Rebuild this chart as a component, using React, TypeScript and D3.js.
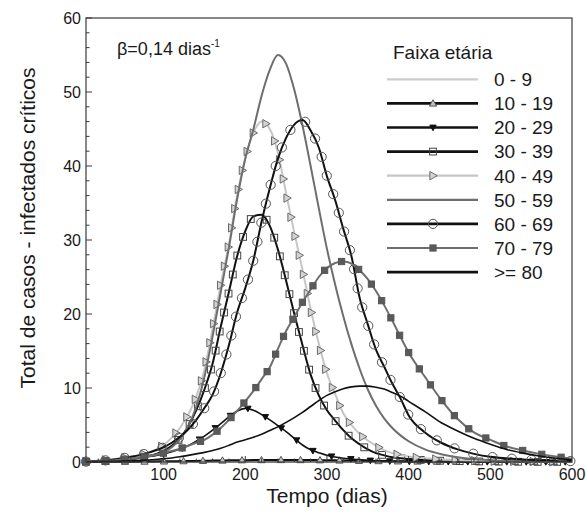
import React, { useEffect, useRef } from 'react';
import * as d3 from 'd3';

// time axis (days)
const times = [5, 20, 40, 60, 80, 100, 110, 120, 130, 140, 150, 160, 170, 180, 190, 200, 210, 220, 230, 240, 250, 260, 270, 280, 290, 300, 310, 320, 330, 340, 350, 360, 370, 380, 390, 400, 420, 440, 460, 480, 500, 520, 540, 560, 580, 600];

const age0_9 = [0, 0, 0.01, 0.01, 0.02, 0.03, 0.03, 0.04, 0.04, 0.05, 0.05, 0.06, 0.06, 0.07, 0.07, 0.07, 0.08, 0.08, 0.08, 0.08, 0.08, 0.08, 0.07, 0.07, 0.07, 0.06, 0.06, 0.05, 0.05, 0.05, 0.04, 0.04, 0.03, 0.03, 0.03, 0.03, 0.02, 0.02, 0.01, 0.01, 0.01, 0.01, 0, 0, 0, 0];
const age10_19 = [0.01, 0.02, 0.03, 0.05, 0.07, 0.09, 0.1, 0.12, 0.13, 0.15, 0.17, 0.19, 0.21, 0.22, 0.24, 0.25, 0.26, 0.27, 0.28, 0.28, 0.28, 0.28, 0.27, 0.26, 0.25, 0.24, 0.22, 0.21, 0.19, 0.17, 0.16, 0.14, 0.13, 0.11, 0.1, 0.09, 0.07, 0.05, 0.04, 0.03, 0.02, 0.02, 0.01, 0.01, 0.01, 0.01];
const age20_29 = [0.05, 0.1, 0.2, 0.4, 0.7, 1.1, 1.4, 1.75, 2.2, 2.8, 3.5, 4.3, 5.2, 6.1, 6.9, 7.25, 7.0, 6.4, 5.7, 4.9, 4.1, 3.2, 2.3, 1.65, 1.25, 0.9, 0.68, 0.5, 0.4, 0.3, 0.22, 0.17, 0.13, 0.1, 0.08, 0.06, 0.04, 0.03, 0.02, 0.01, 0.01, 0.01, 0, 0, 0, 0];
const age30_39 = [0.05, 0.1, 0.2, 0.4, 0.75, 1.5, 2.2, 3.2, 4.8, 7.0, 9.8, 13.3, 18.3, 23, 27.8, 31.2, 33.2, 33.4, 31.9, 28.7, 24.5, 20, 15.8, 11.8, 9, 7, 5.6, 4.3, 3.2, 2.4, 1.7, 1.2, 0.9, 0.65, 0.5, 0.4, 0.25, 0.17, 0.12, 0.08, 0.06, 0.04, 0.03, 0.02, 0.02, 0.01];
const age40_49 = [0.1, 0.2, 0.4, 0.7, 1.2, 2.3, 3.3, 4.6, 6.4, 8.8, 12.5, 18, 24, 29.5, 36, 41, 44.5, 46, 45, 41.8, 36.3, 31, 26, 20.7, 16, 12, 9.2, 6.6, 5.0, 3.8, 2.9, 2.2, 1.6, 1.2, 0.95, 0.75, 0.5, 0.35, 0.25, 0.18, 0.12, 0.09, 0.07, 0.05, 0.04, 0.03];
const age50_59 = [0.05, 0.1, 0.25, 0.45, 0.8, 1.3, 2.0, 3.1, 4.8, 7.5, 11.5, 17, 23, 29, 35.5, 41, 45, 49.5, 53, 55, 53.8, 50.3, 45.5, 40, 34.3, 28.8, 24, 19.7, 15.9, 12.6, 9.8, 7.6, 5.9, 4.6, 3.6, 2.8, 1.7, 1.05, 0.65, 0.4, 0.25, 0.17, 0.12, 0.08, 0.05, 0.04];
const age60_69 = [0.05, 0.15, 0.35, 0.7, 1.2, 2.0, 2.6, 3.4, 4.4, 5.7, 7.3, 9.1, 12, 15.8, 20.2, 23.5, 27.3, 32.5, 37, 41, 43.8, 45.6, 46.2, 44.8, 42.5, 38.6, 35.4, 31.5, 27.8, 22.2, 18.6, 15.2, 12.9, 10.6, 8.6, 6.3, 4.0, 2.6, 1.7, 1.1, 0.7, 0.5, 0.35, 0.25, 0.18, 0.12];
const age70_79 = [0.05, 0.1, 0.25, 0.45, 0.75, 1.2, 1.5, 1.8, 2.2, 2.6, 3.0, 3.7, 4.6, 5.7, 6.9, 8.2, 9.6, 11.2, 12.8, 15.3, 17.7, 19.6, 21.6, 23.3, 25.0, 26.2, 26.9, 27.1, 26.8, 25.9, 24.7, 23.1, 21.2, 19.1, 16.9, 14.8, 11.5, 8.4, 5.8, 4.0, 3.0, 2.1, 1.55, 1.1, 0.75, 0.45];
const age80plus = [0.02, 0.05, 0.1, 0.17, 0.25, 0.45, 0.55, 0.7, 0.9, 1.1, 1.3, 1.55, 1.85, 2.25, 2.7, 3.0, 3.35, 3.75, 4.25, 4.75, 5.35, 6.0, 6.7, 7.5, 8.3, 9.0, 9.5, 9.9, 10.15, 10.25, 10.25, 10.1, 9.85, 9.4, 8.9, 8.2, 6.8, 5.3, 4.2, 3.2, 2.4, 1.7, 1.2, 0.8, 0.5, 0.3];

const seriesLabels = ['0 - 9', '10 - 19', '20 - 29', '30 - 39', '40 - 49', '50 - 59', '60 - 69', '70 - 79', '>= 80'];
const seriesValues = [age0_9, age10_19, age20_29, age30_39, age40_49, age50_59, age60_69, age70_79, age80plus];

const xTicks = [100, 200, 300, 400, 500, 600];
const yTicks = [0, 10, 20, 30, 40, 50, 60];

type Style = { line: string; width: number; marker: string; mStroke: string; mFill: string; r: number };
const styles: Style[] = [
  { line: '#cdcdcd', width: 2, marker: 'none', mStroke: '', mFill: '', r: 0 },
  { line: '#111', width: 2, marker: 'triUp', mStroke: '#555', mFill: '#c4c4c4', r: 3.6 },
  { line: '#111', width: 1.6, marker: 'triDown', mStroke: '#111', mFill: '#111', r: 3.2 },
  { line: '#111', width: 2, marker: 'square', mStroke: '#444', mFill: 'none', r: 3.4 },
  { line: '#c6c6c6', width: 2, marker: 'triRight', mStroke: '#6a6a6a', mFill: '#d4d4d4', r: 4.2 },
  { line: '#6e6e6e', width: 2, marker: 'none', mStroke: '', mFill: '', r: 0 },
  { line: '#111', width: 2, marker: 'circle', mStroke: '#555', mFill: 'none', r: 4.6 },
  { line: '#6e6e6e', width: 2, marker: 'squareFilled', mStroke: '#555', mFill: '#5a5a5a', r: 3.1 },
  { line: '#111', width: 1.6, marker: 'none', mStroke: '', mFill: '', r: 0 },
];

const FONT = '"Liberation Sans", Arial, Helvetica, sans-serif';

function drawMarker(g: any, st: Style, cx: number, cy: number) {
  const r = st.r;
  const sw = 1;
  if (st.marker === 'circle') {
    g.append('circle').attr('cx', cx).attr('cy', cy).attr('r', r).attr('fill', st.mFill).attr('stroke', st.mStroke).attr('stroke-width', sw);
  } else if (st.marker === 'square' || st.marker === 'squareFilled') {
    g.append('rect').attr('x', cx - r).attr('y', cy - r).attr('width', 2 * r).attr('height', 2 * r)
      .attr('fill', st.mFill).attr('stroke', st.mStroke).attr('stroke-width', sw);
  } else {
    let pts: number[][] = [];
    if (st.marker === 'triUp') pts = [[cx, cy - r], [cx + r, cy + r * 0.75], [cx - r, cy + r * 0.75]];
    if (st.marker === 'triDown') pts = [[cx, cy + r], [cx + r, cy - r * 0.75], [cx - r, cy - r * 0.75]];
    if (st.marker === 'triRight') pts = [[cx + r, cy], [cx - r * 0.75, cy - r], [cx - r * 0.75, cy + r]];
    g.append('polygon').attr('points', pts.map((p) => p.join(',')).join(' '))
      .attr('fill', st.mFill).attr('stroke', st.mStroke).attr('stroke-width', sw).attr('stroke-linejoin', 'miter');
  }
}

export default function App() {
  const ref = useRef<SVGSVGElement>(null);
  useEffect(() => {
    const svg = d3.select(ref.current);
    svg.selectAll('*').remove();
    const L = 86, R = 572, T = 18, B = 462;
    const x = d3.scaleLinear().domain([5, 600]).range([L, R]);
    const y = d3.scaleLinear().domain([0, 60]).range([B, T]);

    svg.append('rect').attr('width', 586).attr('height', 516).attr('fill', '#fff');

    // series
    const line = d3.line<number>()
      .x((_, i) => x(times[i]))
      .y((d) => y(d))
      .curve(d3.curveMonotoneX);
    const gS = svg.append('g');
    seriesValues.forEach((vals, k) => {
      const st = styles[k];
      const g = gS.append('g');
      const p = g.append('path').attr('d', line(vals) as string).attr('fill', 'none')
        .attr('stroke', st.line).attr('stroke-width', st.width).attr('stroke-linejoin', 'round');
      if (st.marker !== 'none') {
        const node = p.node() as SVGPathElement;
        const len = node.getTotalLength();
        const step = 19.5;
        for (let l = 0; l <= len; l += step) {
          const pt = node.getPointAtLength(l);
          drawMarker(g, st, pt.x, pt.y);
        }
      }
    });

    // frame & axes
    const ax = svg.append('g').attr('stroke', '#3a3a3a').attr('fill', 'none');
    ax.append('rect').attr('x', L).attr('y', T).attr('width', R - L).attr('height', B - T).attr('stroke-width', 1.2);
    d3.range(0, 61, 2).forEach((v) => {
      const major = v % 10 === 0;
      ax.append('line').attr('x1', L).attr('x2', L + (major ? 6 : 3.5)).attr('y1', y(v)).attr('y2', y(v)).attr('stroke-width', 1);
    });
    d3.range(20, 601, 20).forEach((v) => {
      const major = v % 100 === 0;
      if (x(v) < L + 1 || x(v) > R - 1) return;
      ax.append('line').attr('x1', x(v)).attr('x2', x(v)).attr('y1', B).attr('y2', B - (major ? 6 : 3.5)).attr('stroke-width', 1);
    });

    const tg = svg.append('g').attr('font-family', FONT).attr('fill', '#1a1a1a');
    yTicks.forEach((v) => {
      tg.append('text').attr('x', 81).attr('y', y(v)).attr('dy', '0.36em').attr('text-anchor', 'end').attr('font-size', 16).text(String(v));
    });
    xTicks.forEach((v) => {
      tg.append('text').attr('x', x(v)).attr('y', 480).attr('text-anchor', 'middle').attr('font-size', 16).text(String(v));
    });
    tg.append('text').attr('x', 327).attr('y', 503).attr('text-anchor', 'middle').attr('font-size', 21).text('Tempo (dias)');
    tg.append('text').attr('transform', 'translate(35,228) rotate(-90)').attr('text-anchor', 'middle').attr('font-size', 21)
      .text('Total de casos - infectados críticos');

    // annotation
    const ann = tg.append('text').attr('x', 117).attr('y', 55).attr('font-size', 18);
    ann.append('tspan').text('β=0,14 dias');
    ann.append('tspan').attr('dy', -8).attr('font-size', 10).text('-1');

    // legend
    tg.append('text').attr('x', 393).attr('y', 59).attr('font-size', 19).text('Faixa etária');
    seriesLabels.forEach((lab, k) => {
      const st = styles[k];
      const cy = 79.3 + k * 24.1;
      const g = svg.append('g');
      g.append('line').attr('x1', 387).attr('x2', 478).attr('y1', cy).attr('y2', cy)
        .attr('stroke', st.line).attr('stroke-width', st.line === '#111' ? 2.6 : 2.2);
      if (st.marker !== 'none') drawMarker(g, st, 433, cy);
      tg.append('text').attr('x', 494).attr('y', cy).attr('dy', '0.36em').attr('font-size', 19).text(lab);
    });
  }, []);
  return <svg ref={ref} width={586} height={516} style={{ position: 'absolute', left: 0, top: 0 }} />;
}
